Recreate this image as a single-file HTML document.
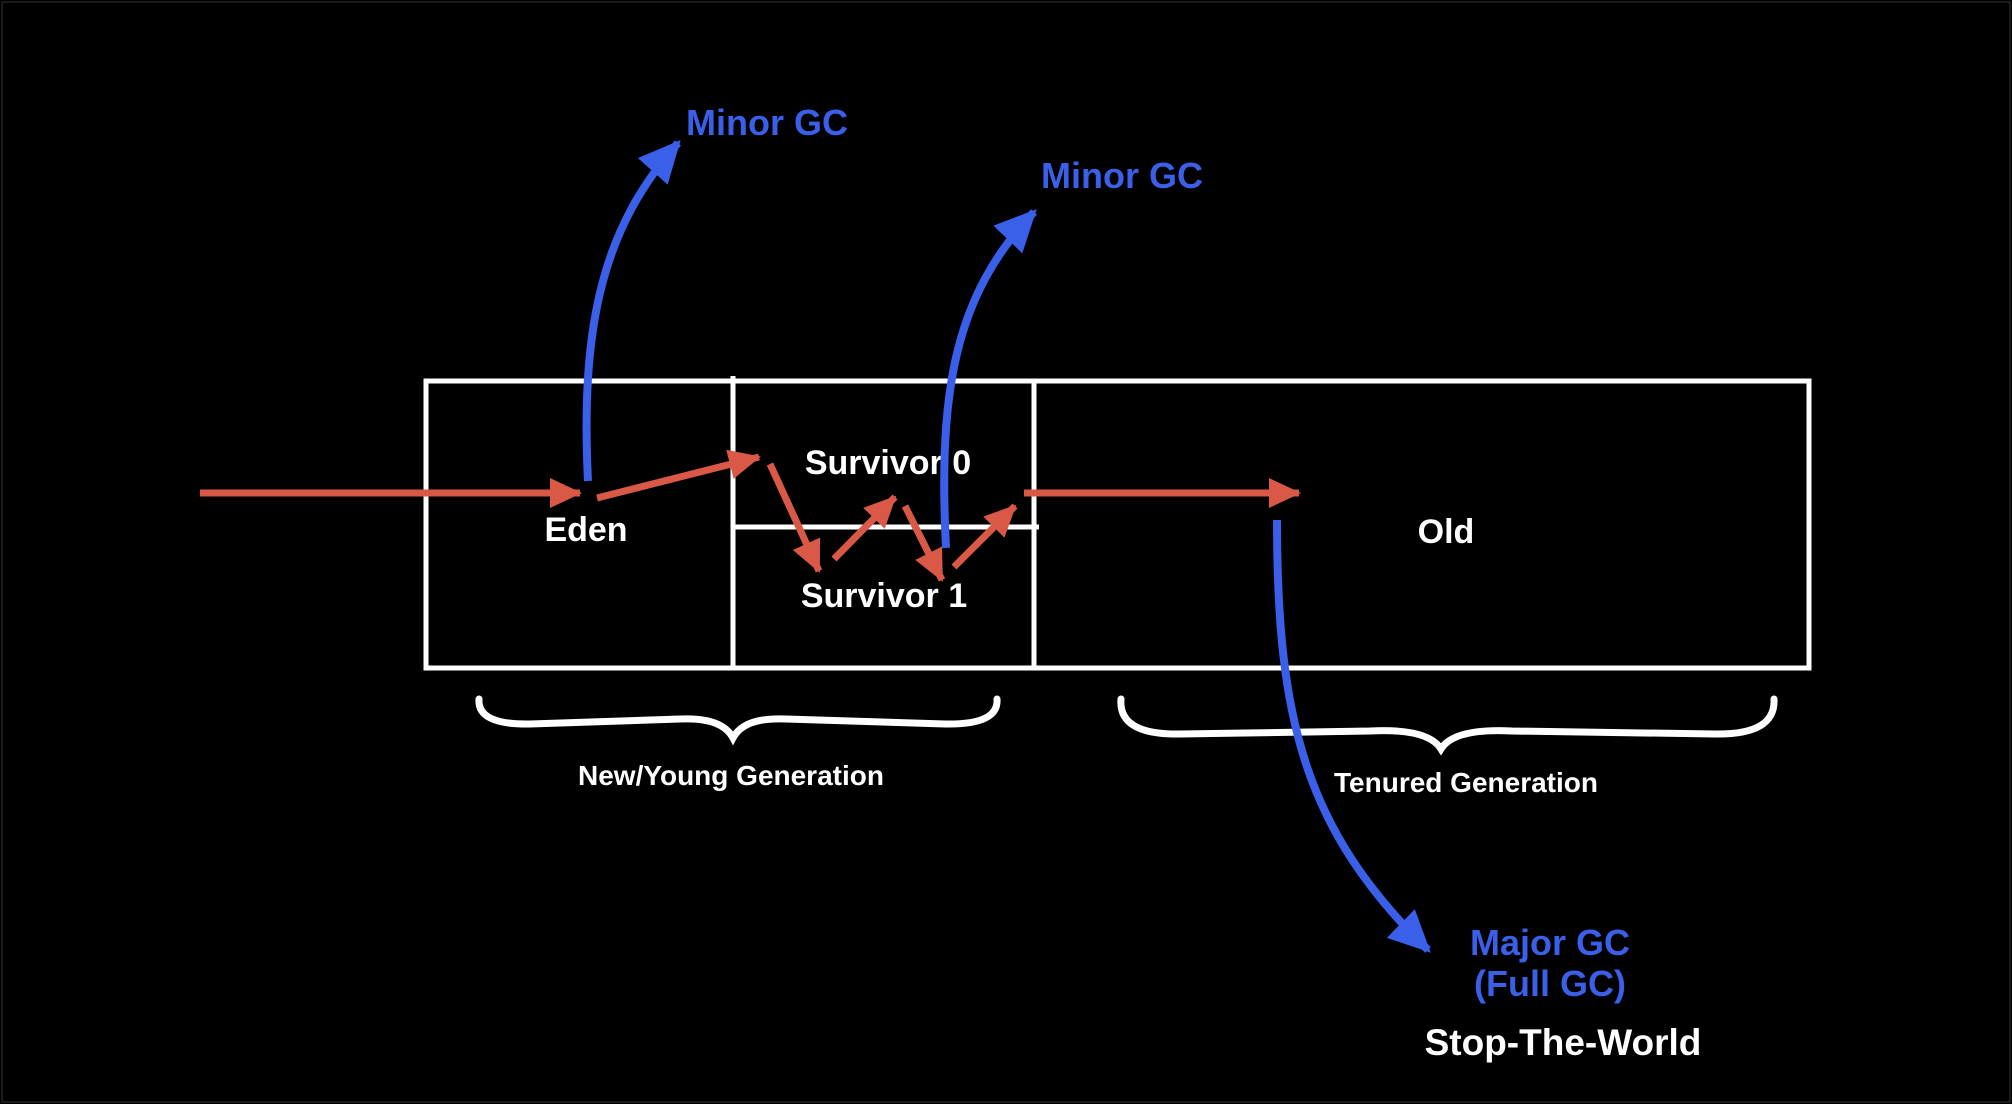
<!DOCTYPE html>
<html><head><meta charset="utf-8"><style>
html,body{margin:0;padding:0;background:#000;}
svg{display:block}
text{font-family:"Liberation Sans",sans-serif;font-weight:bold;}
</style></head><body>
<svg width="2012" height="1104" viewBox="0 0 2012 1104" xmlns="http://www.w3.org/2000/svg">
<defs>
<marker id="rh" markerUnits="userSpaceOnUse" markerWidth="34" markerHeight="30" refX="30" refY="15" orient="auto">
<path d="M0,0 L32,15 L0,30 z" fill="#d95846"/>
</marker>
<marker id="bh" markerUnits="userSpaceOnUse" markerWidth="44" markerHeight="40" refX="38" refY="20" orient="auto">
<path d="M0,0 L42,20 L0,40 z" fill="#3a5fe8"/>
</marker>
</defs>
<rect x="0" y="0" width="2012" height="1104" fill="#000"/>
<rect x="2" y="2" width="2008" height="1100" fill="none" stroke="#333" stroke-width="1"/>
<g stroke="#fff" stroke-width="5" fill="none">
<rect x="426" y="381" width="1383" height="287"/>
<line x1="733" y1="376" x2="733" y2="668"/>
<line x1="1034" y1="381" x2="1034" y2="668"/>
<line x1="733" y1="527" x2="1039" y2="527"/>
</g>
<g stroke="#fff" stroke-width="7" fill="none" stroke-linecap="round">
<path d="M479,699 Q477,725 530,724 L680,719 Q722,717 733,738 Q744,717 786,719 L945,724 Q999,725 997,699"/>
<path d="M1121,699 Q1118,735 1180,734 L1370,731 Q1428,728 1441,749 Q1454,728 1512,731 L1715,734 Q1776,735 1774,699"/>
</g>
<g fill="#fff" font-size="34" text-anchor="middle">
<text x="586" y="541">Eden</text>
<text x="888" y="474">Survivor 0</text>
<text x="884" y="607">Survivor 1</text>
<text x="1446" y="543">Old</text>
<text x="1563" y="1055" font-size="37">Stop-The-World</text>
</g>
<g fill="#fff" font-size="28" text-anchor="middle">
<text x="731" y="785">New/Young Generation</text>
<text x="1466" y="792">Tenured Generation</text>
</g>
<g fill="#3a5fe8" font-size="36" text-anchor="middle">
<text x="767" y="135">Minor GC</text>
<text x="1122" y="188">Minor GC</text>
<text x="1550" y="955">Major GC</text>
<text x="1550" y="996">(Full GC)</text>
</g>
<g stroke="#d95846" stroke-width="7" fill="none" marker-end="url(#rh)">
<line x1="200" y1="493" x2="580" y2="493"/>
<line x1="597" y1="498" x2="759" y2="457"/>
<line x1="770" y1="464" x2="819" y2="571"/>
<line x1="834" y1="559" x2="895" y2="497"/>
<line x1="905" y1="506" x2="942" y2="580"/>
<line x1="954" y1="567" x2="1015" y2="506"/>
<line x1="1024" y1="493" x2="1299" y2="493"/>
</g>
<g stroke="#3a5fe8" stroke-width="8" fill="none" marker-end="url(#bh)">
<path d="M588,481 C580,320 605,225 678,143"/>
<path d="M946,548 C938,390 955,295 1034,212"/>
<path d="M1277,520 C1277,720 1305,830 1428,950"/>
</g>
</svg>
</body></html>
